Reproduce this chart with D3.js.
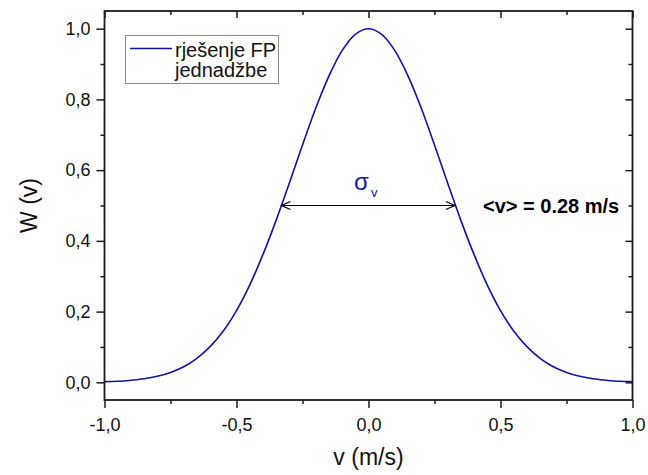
<!DOCTYPE html>
<html><head><meta charset="utf-8">
<script src="https://cdn.jsdelivr.net/npm/d3@7"></script>
<style>html,body{margin:0;padding:0;background:#fff;}svg{display:block;font-family:"Liberation Sans",Arial,sans-serif;}</style>
</head><body>
<svg id="c" width="648" height="475"></svg>
<script>
const vValues = [-1.00,-0.95,-0.90,-0.85,-0.80,-0.75,-0.70,-0.65,-0.60,-0.55,-0.50,-0.45,-0.40,-0.35,-0.30,-0.25,-0.20,-0.15,-0.10,-0.05,0.00,
  0.05,0.10,0.15,0.20,0.25,0.30,0.35,0.40,0.45,0.50,0.55,0.60,0.65,0.70,0.75,0.80,0.85,0.90,0.95,1.00];
const wValues = [0.002,0.003,0.006,0.010,0.017,0.028,0.044,0.068,0.101,0.145,0.203,0.275,0.361,0.458,0.563,0.671,0.775,0.866,0.938,0.984,1.000,
  0.984,0.938,0.866,0.775,0.671,0.563,0.458,0.361,0.275,0.203,0.145,0.101,0.068,0.044,0.028,0.017,0.010,0.006,0.003,0.002];
const xTicks = [-1.0,-0.5,0.0,0.5,1.0];
const xMinor = [-0.75,-0.25,0.25,0.75];
const yTicks = [0.0,0.2,0.4,0.6,0.8,1.0];
const yMinor = [0.1,0.3,0.5,0.7,0.9];
const arrowV = [-0.33,0.327];
const arrowW = 0.5;
const legendLabel = ["rješenje FP","jednadžbe"];
const meanLabel = "<v> = 0.28 m/s";
const xTitle = "v (m/s)", yTitle = "W (v)";

const L=104.5, R=632.5, T=11, B=400;
const blue = "#1212a6", ink = "#1a1a1a";
const x = d3.scaleLinear().domain([-1,1]).range([L,R]);
const y = d3.scaleLinear().domain([-0.05,1.05]).range([B,T]);
const svg = d3.select("#c");
const fmt = d => (d < 0 ? "-" : "") + Math.abs(d).toFixed(1).replace(".",",");

function styleAxis(g){ g.select(".domain").remove(); g.selectAll("line").attr("stroke",ink).attr("stroke-width",1.5);
  g.selectAll("text").attr("fill","#111").style("font-size","18px").style("font-family","'Liberation Sans',Arial,sans-serif"); }

// bottom
svg.append("g").attr("transform",`translate(0,${B})`).call(d3.axisBottom(x).tickValues(xTicks).tickFormat(fmt).tickSize(8).tickPadding(10)).call(styleAxis);
svg.append("g").attr("transform",`translate(0,${B})`).call(d3.axisBottom(x).tickValues(xMinor).tickFormat("").tickSize(4)).call(styleAxis);
// left
svg.append("g").attr("transform",`translate(${L},0)`).call(d3.axisLeft(y).tickValues(yTicks).tickFormat(fmt).tickSize(8).tickPadding(6)).call(styleAxis);
svg.append("g").attr("transform",`translate(${L},0)`).call(d3.axisLeft(y).tickValues(yMinor).tickFormat("").tickSize(4)).call(styleAxis);
// top (inward)
svg.append("g").attr("transform",`translate(0,${T})`).call(d3.axisBottom(x).tickValues(xTicks).tickFormat("").tickSize(7)).call(styleAxis);
svg.append("g").attr("transform",`translate(0,${T})`).call(d3.axisBottom(x).tickValues(xMinor).tickFormat("").tickSize(4)).call(styleAxis);
// right (inward)
svg.append("g").attr("transform",`translate(${R},0)`).call(d3.axisLeft(y).tickValues(yTicks).tickFormat("").tickSize(7)).call(styleAxis);
svg.append("g").attr("transform",`translate(${R},0)`).call(d3.axisLeft(y).tickValues(yMinor).tickFormat("").tickSize(4)).call(styleAxis);

// frame
svg.append("rect").attr("x",L).attr("y",T).attr("width",R-L).attr("height",B-T).attr("fill","none").attr("stroke",ink).attr("stroke-width",1.8);

// curve
const pts = vValues.map((v,i)=>[v,wValues[i]]);
svg.append("path").datum(pts).attr("fill","none").attr("stroke",blue).attr("stroke-width",1.6)
  .attr("d",d3.line().x(d=>x(d[0])).y(d=>y(d[1])).curve(d3.curveCatmullRom));

// arrow
const ay = y(arrowW), ax1 = x(arrowV[0]), ax2 = x(arrowV[1]);
svg.append("line").attr("x1",ax1).attr("x2",ax2).attr("y1",ay).attr("y2",ay).attr("stroke","#000").attr("stroke-width",1.2);
svg.append("path").attr("d",`M${ax1+9},${ay-4}L${ax1},${ay}L${ax1+9},${ay+4}`).attr("fill","none").attr("stroke","#000").attr("stroke-width",1.2);
svg.append("path").attr("d",`M${ax2-9},${ay-4}L${ax2},${ay}L${ax2-9},${ay+4}`).attr("fill","none").attr("stroke","#000").attr("stroke-width",1.2);

// sigma label
const sig = svg.append("text").attr("x",(ax1+ax2)/2-14).attr("y",ay-16).attr("fill",blue).style("font-size","24px");
sig.append("tspan").text("σ");
sig.append("tspan").attr("dy",7).attr("dx",2).style("font-size","13px").text("v");

// mean label
svg.append("text").attr("x",483).attr("y",ay+7).style("font-size","20px").style("font-weight","bold").attr("fill","#000").text(meanLabel);

// legend
svg.append("rect").attr("x",125.5).attr("y",35.5).attr("width",153).attr("height",48).attr("fill","#fff").attr("stroke","#8a8a8a").attr("stroke-width",1);
svg.append("line").attr("x1",130).attr("x2",172).attr("y1",48.5).attr("y2",48.5).attr("stroke",blue).attr("stroke-width",1.6);
svg.append("text").attr("x",175).attr("y",57).style("font-size","20px").attr("fill","#111").text(legendLabel[0]);
svg.append("text").attr("x",175).attr("y",77).style("font-size","20px").attr("fill","#111").text(legendLabel[1]);

// titles
svg.append("text").attr("x",(L+R)/2).attr("y",465).attr("text-anchor","middle").style("font-size","23px").attr("fill","#111").text(xTitle);
svg.append("text").attr("transform",`translate(37,${(T+B)/2}) rotate(-90)`).attr("text-anchor","middle").style("font-size","23px").attr("fill","#111").text(yTitle);
</script>
</body></html>
